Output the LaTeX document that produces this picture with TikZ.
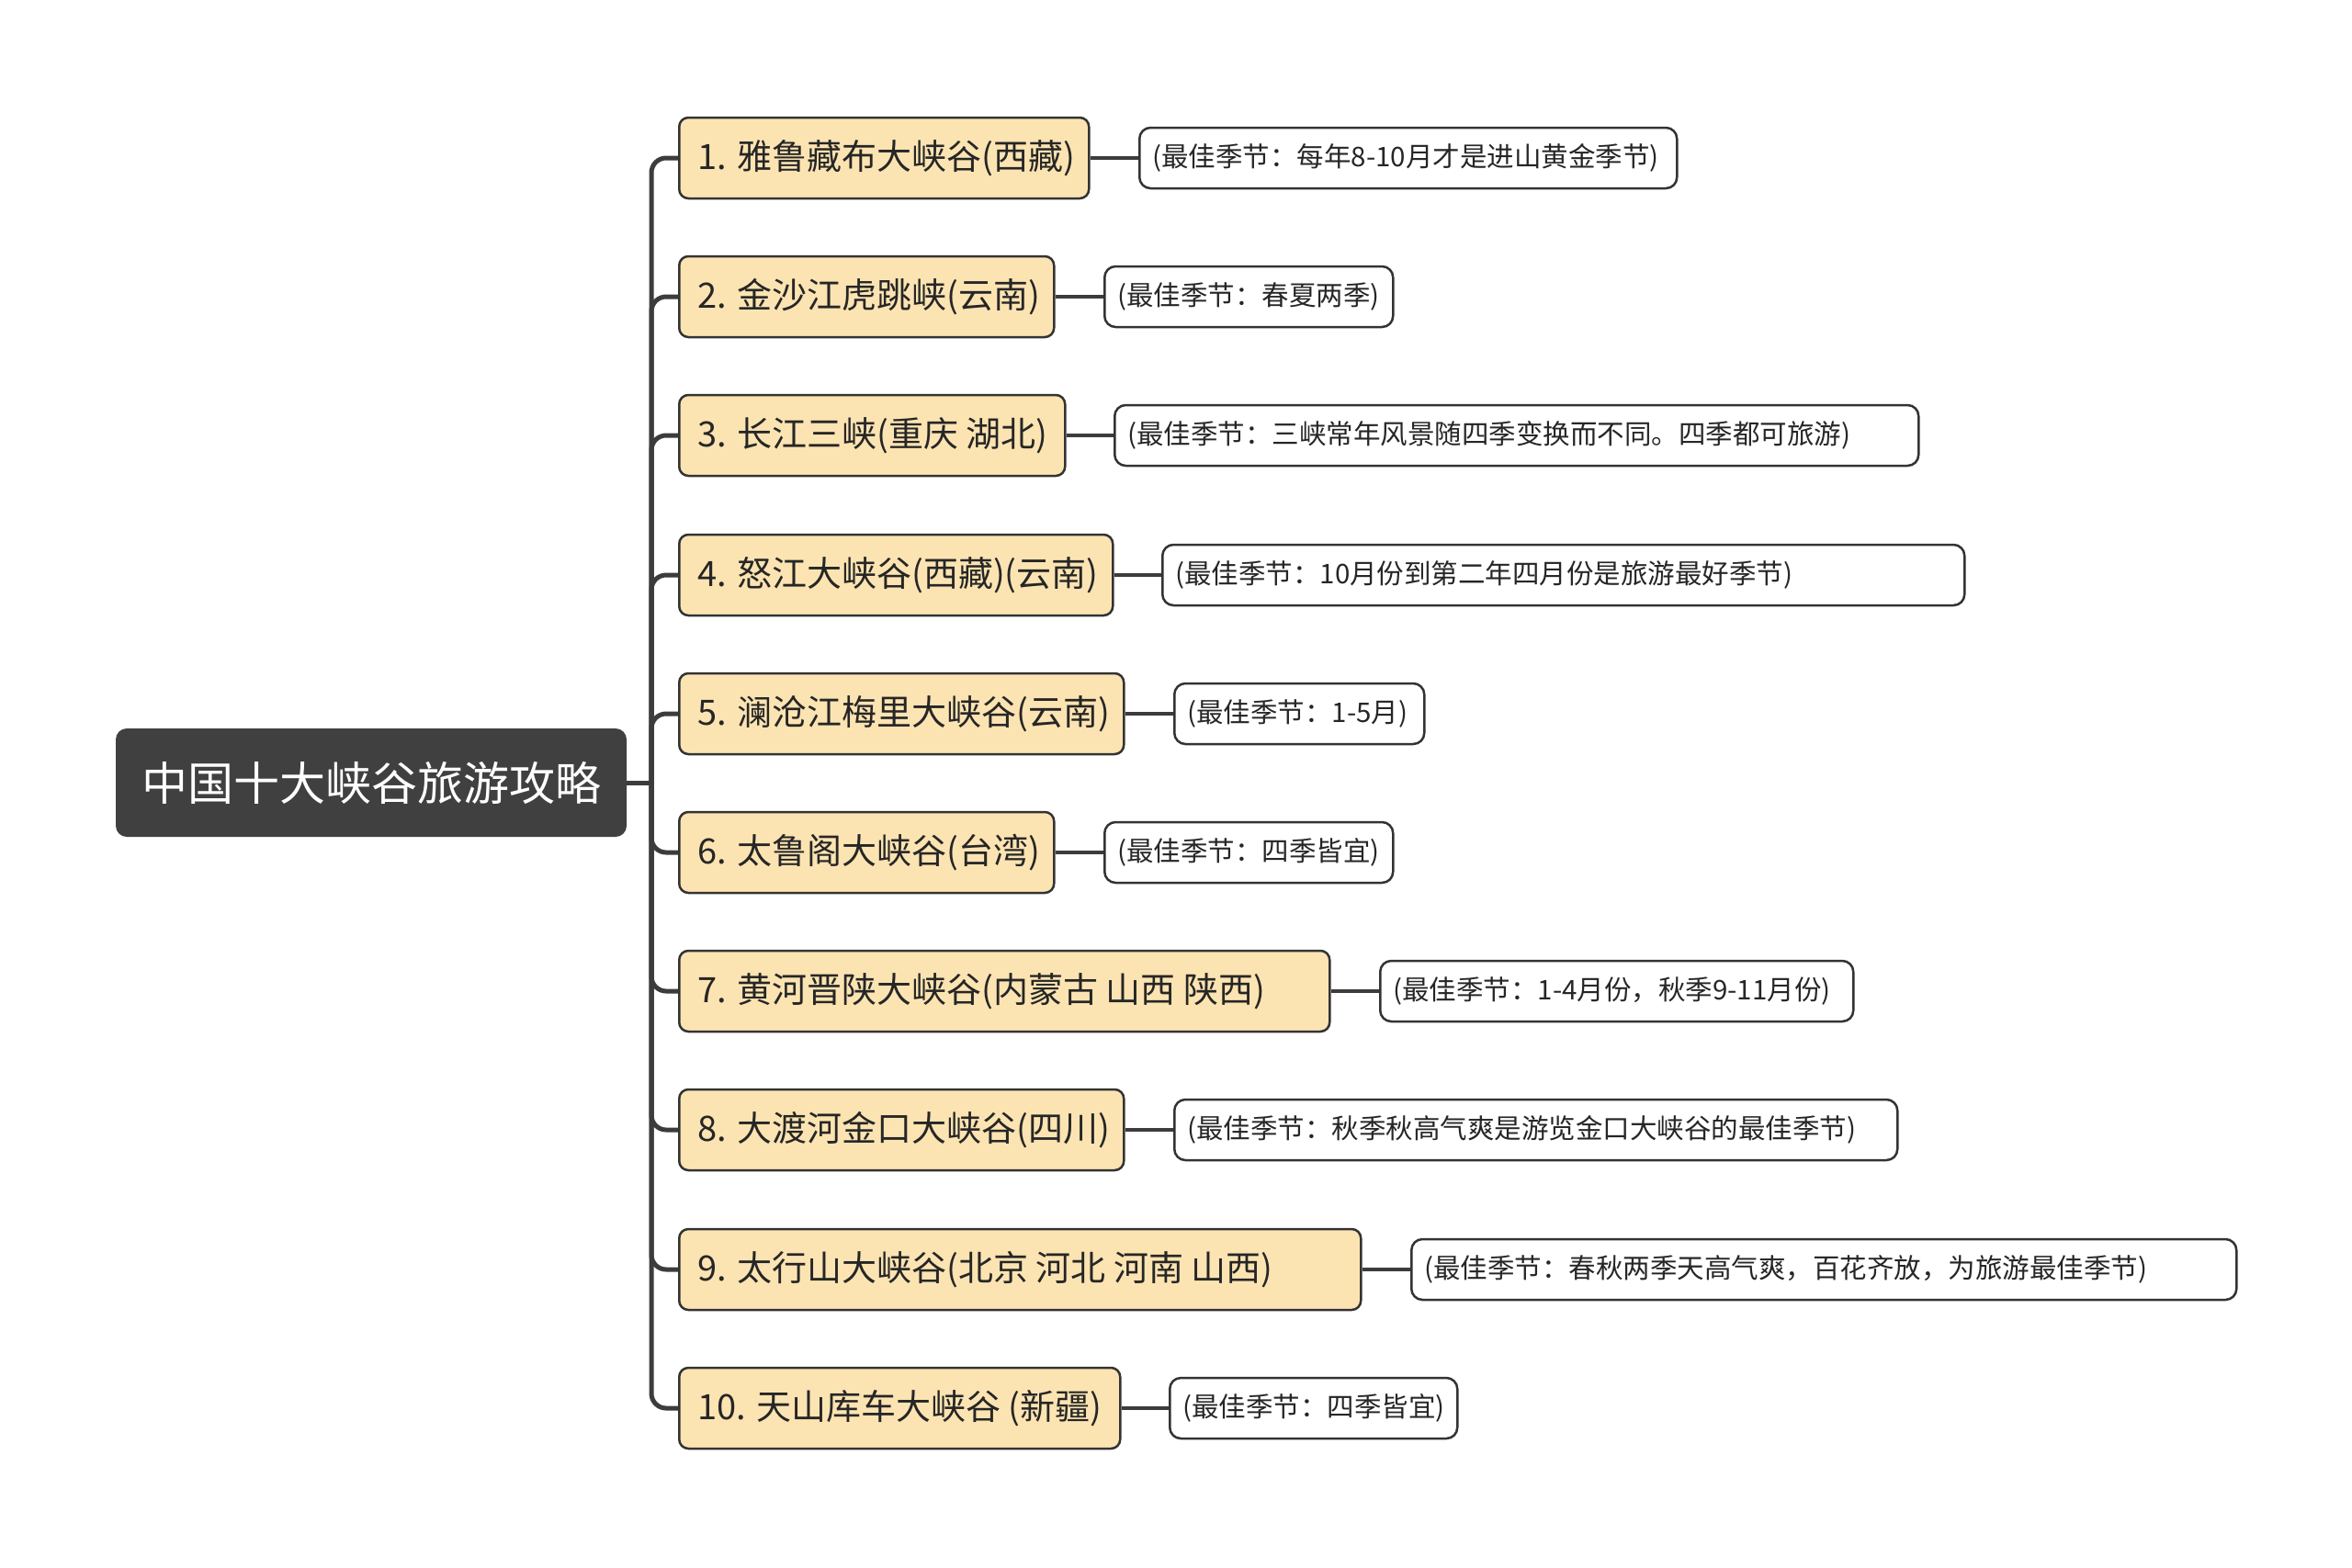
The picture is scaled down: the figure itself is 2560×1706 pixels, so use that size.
\documentclass[tikz,border=0pt]{standalone}
\usepackage{fontspec}
\setmainfont{Noto Sans CJK SC}
\usetikzlibrary{backgrounds}
\definecolor{rootfill}{HTML}{404040}
\definecolor{tan}{HTML}{FCE4B2}
\definecolor{edge}{HTML}{333333}
\definecolor{ink}{HTML}{262626}
\definecolor{wire}{HTML}{3C3C3C}
\newcommand\lt[2]{\makebox[#1pt][l]{#2}}
\begin{document}
\begin{tikzpicture}[x=1pt,y=-1pt,
  rootbox/.style={fill=rootfill, draw=none, rounded corners=12pt, minimum width=556pt, minimum height=118pt, inner sep=0pt, text=white, font=\fontsize{50}{58}\selectfont},
  lonebox/.style={fill=tan, draw=edge, line width=2.5pt, rounded corners=10pt, minimum height=88pt, inner xsep=20pt, inner ysep=0pt, anchor=west, text=ink, font=\fontsize{38}{44}\selectfont},
  ltwobox/.style={fill=white, draw=edge, line width=2.5pt, rounded corners=12pt, minimum height=66pt, inner xsep=14pt, inner ysep=0pt, anchor=west, text=ink, font=\fontsize{29.5}{35}\selectfont},
  trunk/.style={draw=wire, line width=5pt, rounded corners=16pt},
  twig/.style={draw=wire, line width=4pt}]
\useasboundingbox (0,0) rectangle (2560,1706);

\node[rootbox] (root) at (404,852) {中国十大峡谷旅游攻略};
\coordinate (tr) at (709,852);

\node[lonebox] (a1) at (738,172) {\lt{406}{1. 雅鲁藏布大峡谷(西藏)}};
\node[lonebox] (a2) at (738,323) {\lt{368}{2. 金沙江虎跳峡(云南)}};
\node[lonebox] (a3) at (738,474) {\lt{380}{3. 长江三峡(重庆 湖北)}};
\node[lonebox] (a4) at (738,626) {\lt{432}{4. 怒江大峡谷(西藏)(云南)}};
\node[lonebox] (a5) at (738,777) {\lt{444}{5. 澜沧江梅里大峡谷(云南)}};
\node[lonebox] (a6) at (738,928) {\lt{368}{6. 太鲁阁大峡谷(台湾)}};
\node[lonebox] (a7) at (738,1079) {\lt{668}{7. 黄河晋陕大峡谷(内蒙古 山西 陕西)}};
\node[lonebox] (a8) at (738,1230) {\lt{444}{8. 大渡河金口大峡谷(四川)}};
\node[lonebox] (a9) at (738,1382) {\lt{702}{9. 太行山大峡谷(北京 河北 河南 山西)}};
\node[lonebox] (a10) at (738,1533) {\lt{440}{10. 天山库车大峡谷 (新疆)}};

\node[ltwobox] (b1) at (1239,172) {\lt{557}{(最佳季节：每年8-10月才是进山黄金季节)}};
\node[ltwobox] (b2) at (1201,323) {\lt{286}{(最佳季节：春夏两季)}};
\node[ltwobox] (b3) at (1212,474) {\lt{847}{(最佳季节：三峡常年风景随四季变换而不同。四季都可旅游)}};
\node[ltwobox] (b4) at (1264,626) {\lt{845}{(最佳季节：10月份到第二年四月份是旅游最好季节)}};
\node[ltwobox] (b5) at (1277,777) {\lt{244}{(最佳季节：1-5月)}};
\node[ltwobox] (b6) at (1201,928) {\lt{286}{(最佳季节：四季皆宜)}};
\node[ltwobox] (b7) at (1501,1079) {\lt{487}{(最佳季节：1-4月份，秋季9-11月份)}};
\node[ltwobox] (b8) at (1277,1230) {\lt{759}{(最佳季节：秋季秋高气爽是游览金口大峡谷的最佳季节)}};
\node[ltwobox] (b9) at (1535,1382) {\lt{870}{(最佳季节：春秋两季天高气爽，百花齐放，为旅游最佳季节)}};
\node[ltwobox] (b10) at (1272,1533) {\lt{285}{(最佳季节：四季皆宜)}};

\begin{scope}[on background layer]
\draw[twig, line width=5pt] (root.east) -- (tr);
\foreach \i in {1,...,10}{
  \draw[trunk] (tr) |- (a\i.west);
  \draw[twig] (a\i.east) -- (b\i.west);
}
\end{scope}
\end{tikzpicture}
\end{document}
